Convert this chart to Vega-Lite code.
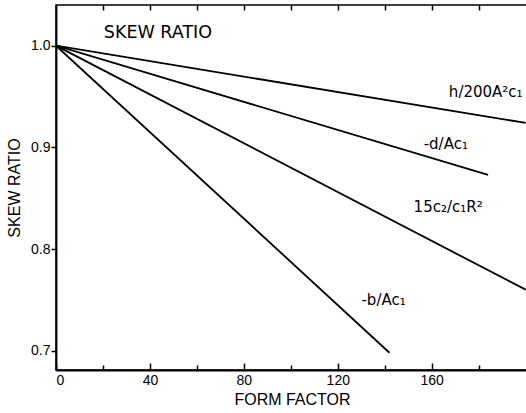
{
  "$schema": "https://vega.github.io/schema/vega-lite/v6.json",
  "width": 472,
  "height": 365,
  "autosize": {"type": "none"},
  "padding": {"left": 56, "top": 5, "right": 0, "bottom": 43},
  "background": "white",
  "config": {
    "view": {"stroke": "black", "strokeWidth": 1.5},
    "font": "Liberation Sans",
    "axis": {"labelFont": "Liberation Sans", "titleFont": "Liberation Sans", "labelColor": "black", "titleColor": "black", "domainColor": "black", "tickColor": "black", "grid": false}
  },
  "datasets": {
    "lines": [
      {"series": "h", "form": 0, "skew": 1.0},
      {"series": "h", "form": 200, "skew": 0.924},
      {"series": "d", "form": 0, "skew": 1.0},
      {"series": "d", "form": 184, "skew": 0.873},
      {"series": "c", "form": 0, "skew": 1.0},
      {"series": "c", "form": 200, "skew": 0.76},
      {"series": "b", "form": 0, "skew": 1.0},
      {"series": "b", "form": 142, "skew": 0.698}
    ],
    "labels": [
      {"text": "SKEW RATIO", "form": 43.4, "skew": 1.012, "size": 17.5},
      {"text": "h/200A²c₁", "form": 183, "skew": 0.954, "size": 15},
      {"text": "-d/Ac₁", "form": 166, "skew": 0.903, "size": 15},
      {"text": "15c₂/c₁R²", "form": 167, "skew": 0.841, "size": 15},
      {"text": "-b/Ac₁", "form": 139.5, "skew": 0.75, "size": 15}
    ]
  },
  "layer": [
    {
      "data": {"name": "lines"},
      "mark": {"type": "line", "color": "black", "strokeWidth": 1.8, "clip": true},
      "encoding": {
        "x": {"field": "form", "type": "quantitative", "scale": {"domain": [0, 201], "nice": false, "zero": false},
          "axis": {"orient": "bottom", "title": "FORM FACTOR", "values": [0, 20, 40, 60, 80, 100, 120, 140, 160, 180],
            "labelExpr": "datum.value % 40 === 0 ? datum.label : ''",
            "tickSize": {"condition": {"test": "datum.value % 40 === 0", "value": -7}, "value": -5},
            "tickWidth": 1.5, "domainWidth": 2, "labelPadding": 10, "labelFontSize": 14, "titleFontSize": 16, "titlePadding": 4, "titleFontWeight": "normal"}},
        "y": {"field": "skew", "type": "quantitative", "scale": {"domain": [0.681, 1.04], "nice": false, "zero": false},
          "axis": {"title": "SKEW RATIO", "values": [0.7, 0.8, 0.9, 1.0], "format": ".1f", "tickSize": 5, "tickWidth": 1.5, "domainWidth": 1.8, "labelFontSize": 14, "labelPadding": 1, "titleFontSize": 16, "titleFontWeight": "normal", "titlePadding": 8}},
        "detail": {"field": "series"}
      }
    },
    {
      "data": {"name": "labels"},
      "mark": {"type": "text", "font": "DejaVu Sans", "color": "black", "align": "center", "baseline": "middle"},
      "encoding": {
        "x": {"field": "form", "type": "quantitative",
          "axis": {"orient": "top", "title": null, "labels": false, "values": [20, 40, 60, 80, 100, 120, 140, 160, 180], "tickSize": -5, "tickWidth": 1.5, "domain": false}},
        "y": {"field": "skew", "type": "quantitative"},
        "text": {"field": "text"},
        "size": {"field": "size", "type": "quantitative", "scale": null}
      }
    }
  ],
  "resolve": {"axis": {"x": "independent"}}
}
